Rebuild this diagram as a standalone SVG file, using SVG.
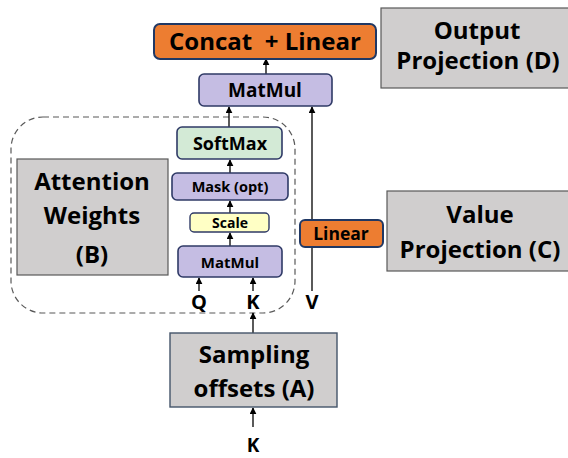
<svg xmlns="http://www.w3.org/2000/svg" width="568" height="458" viewBox="0 0 568 458">
<defs>
<marker id="ah" viewBox="0 0 10 10" refX="9" refY="5" markerWidth="7" markerHeight="7" markerUnits="userSpaceOnUse" orient="auto">
<path d="M0,0 L10,5 L0,10 z" fill="#000"/>
</marker>
<style>
text{font-family:"Open Sans","Liberation Sans",sans-serif;font-weight:bold;fill:#000;text-anchor:middle}
.or{fill:#ED7D31;stroke:#203864;stroke-width:2}
.pu{fill:#C5BDE3;stroke:#2F3A66;stroke-width:1.6}
.gr{fill:#D0CECE;stroke:#595959;stroke-width:1.2}
.c{stroke:#000;stroke-width:1.3;fill:none;marker-end:url(#ah)}
</style>
</defs>
<rect width="568" height="458" fill="#fff"/>
<rect x="11" y="117" width="284" height="196" rx="32" fill="none" stroke="#595959" stroke-width="1.2" stroke-dasharray="6,4"/>
<g id="connectors">
<line class="c" x1="266" y1="74" x2="266" y2="59"/>
<line class="c" x1="229" y1="127" x2="229" y2="107"/>
<line class="c" x1="230" y1="173" x2="230" y2="160"/>
<line class="c" x1="230" y1="213" x2="230" y2="201"/>
<line class="c" x1="230" y1="246" x2="230" y2="233"/>
<line class="c" x1="199" y1="291" x2="199" y2="278"/>
<line class="c" x1="253" y1="291" x2="253" y2="278"/>
<line class="c" x1="312" y1="291" x2="312" y2="107"/>
<line class="c" x1="253" y1="333" x2="253" y2="313"/>
<line class="c" x1="253" y1="427" x2="253" y2="408"/>
</g>
<g id="concat"><rect class="or" x="154" y="24" width="222" height="35" rx="6"/><text x="265" y="50" font-size="24" xml:space="preserve">Concat  + Linear</text></g>
<g id="matmul-top"><rect class="pu" x="199" y="74" width="133" height="32" rx="5"/><text x="265" y="97" font-size="19">MatMul</text></g>
<g id="softmax"><rect x="177" y="127" width="105" height="32" rx="5" fill="#D3EAD6" stroke="#2F3A66" stroke-width="1.6"/><text x="230" y="150" font-size="18">SoftMax</text></g>
<g id="mask"><rect class="pu" x="172" y="173" width="116" height="27" rx="5"/><text x="230" y="192" font-size="14.5">Mask (opt)</text></g>
<g id="scale"><rect x="190" y="213" width="79" height="19" rx="4" fill="#FFFFC5" stroke="#2F3A66" stroke-width="1.4"/><text x="230" y="228" font-size="14">Scale</text></g>
<g id="matmul-bottom"><rect class="pu" x="178" y="246" width="104" height="31" rx="5"/><text x="230" y="268" font-size="15">MatMul</text></g>
<g id="q"><text x="199" y="309" font-size="20">Q</text></g>
<g id="k-top"><text x="253" y="309" font-size="20">K</text></g>
<g id="v"><text x="312" y="309" font-size="20">V</text></g>
<g id="linear"><rect class="or" x="300" y="220" width="83" height="27" rx="5"/><text x="341" y="240" font-size="17.5">Linear</text></g>
<g id="attention"><rect class="gr" x="17" y="159" width="151" height="116"/><text x="92" y="190" font-size="24">Attention</text><text x="92" y="224" font-size="24">Weights</text><text x="92" y="263" font-size="24">(B)</text></g>
<g id="value"><rect class="gr" x="387" y="191" width="183" height="80"/><text x="480" y="223" font-size="24">Value</text><text x="480" y="258" font-size="24">Projection (C)</text></g>
<g id="output"><rect class="gr" x="381" y="8" width="188" height="80"/><text x="477" y="39" font-size="24">Output</text><text x="478" y="69" font-size="24">Projection (D)</text></g>
<g id="sampling"><rect x="170" y="333" width="167" height="74" fill="#D0CECE" stroke="#44546A" stroke-width="1.4"/><text x="254" y="363" font-size="24">Sampling</text><text x="254" y="397" font-size="24">offsets (A)</text></g>
<g id="k-bottom"><text x="253" y="452" font-size="19">K</text></g>
</svg>
